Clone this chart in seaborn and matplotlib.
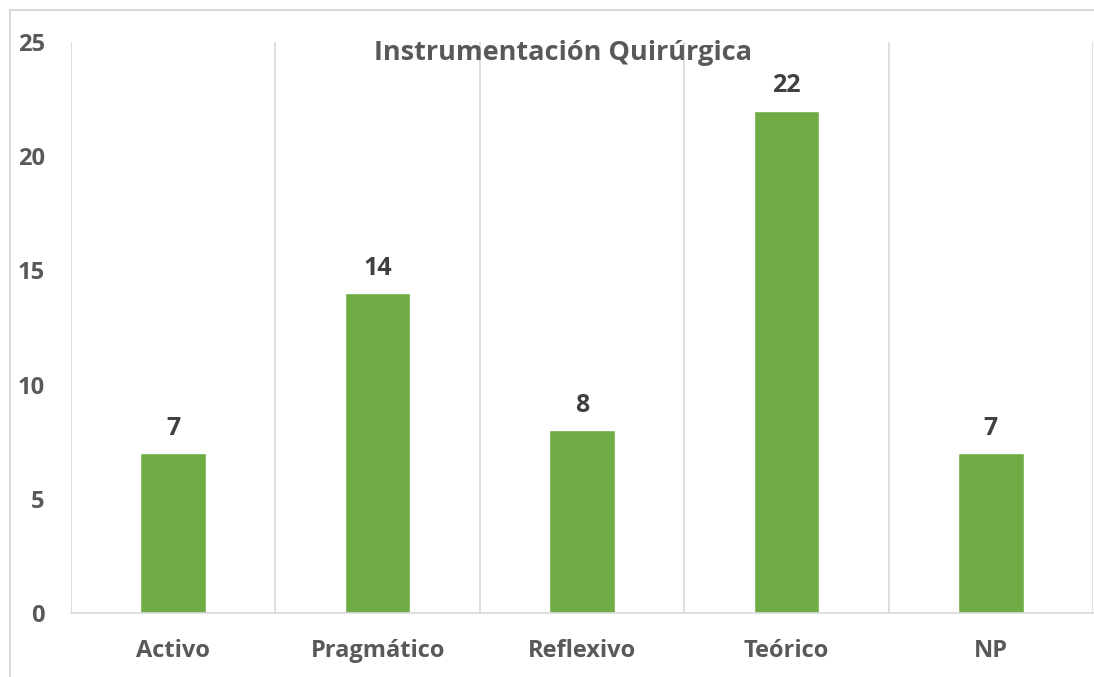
import matplotlib
matplotlib.use("Agg")
import matplotlib.pyplot as plt
import seaborn as sns
import pandas as pd
from matplotlib.lines import Line2D

categories = ["Activo", "Pragmático", "Reflexivo", "Teórico", "NP"]
values = [7, 14, 8, 22, 7]
yticks = [0, 5, 10, 15, 20, 25]
title = "Instrumentación Quirúrgica"

sns.set_theme(style="white")
plt.rcParams['font.family'] = ['Open Sans', 'DejaVu Sans']

df = pd.DataFrame({"cat": categories, "val": values})

fig = plt.figure(figsize=(10.94, 6.77), dpi=100)
ax = fig.add_axes([71/1094, 1 - 613/677, (1093 - 71)/1094, (613 - 42)/677])

sns.barplot(data=df, x="cat", y="val", color="#6FAC46", saturation=1, width=0.32, ax=ax)

ax.set_ylim(0, 25)
ax.set_xlim(-0.5, len(categories) - 0.5)
ax.set_yticks(yticks)
ax.set_yticklabels([str(t) for t in yticks], fontsize=17, fontweight="bold", color="#595959")
ax.set_xticks(range(len(categories)))
ax.set_xticklabels(categories, fontsize=17, fontweight="bold", color="#595959")
ax.tick_params(axis="y", length=0, pad=19)
ax.tick_params(axis="x", length=0, pad=19)
ax.set_xlabel("")
ax.set_ylabel("")

# vertical separators between categories
for b in [i - 0.5 for i in range(len(categories) + 1)]:
    ax.axvline(b, color="#D9D9D9", lw=1.2, zorder=0)

for s in ["top", "right", "left"]:
    ax.spines[s].set_visible(False)
ax.spines["bottom"].set_color("#D9D9D9")
ax.spines["bottom"].set_linewidth(1.2)

for c in ax.containers:
    ax.bar_label(c, labels=[str(v) for v in values], padding=9, fontsize=18,
                 fontweight="bold", color="#404040")

ax.text(0.481, 0.98, title, transform=ax.transAxes, ha="center", va="center",
        fontsize=19.5, fontweight="bold", color="#595959")

# outer frame (partial, like the reference image)
fig.add_artist(Line2D([10/1094, 10/1094], [0, 1 - 10/677], transform=fig.transFigure,
                      color="#D9D9D9", lw=1.5))
fig.add_artist(Line2D([10/1094, 1], [1 - 10/677, 1 - 10/677], transform=fig.transFigure,
                      color="#D9D9D9", lw=1.5))

fig.savefig("out.png", dpi=100, facecolor="white")
